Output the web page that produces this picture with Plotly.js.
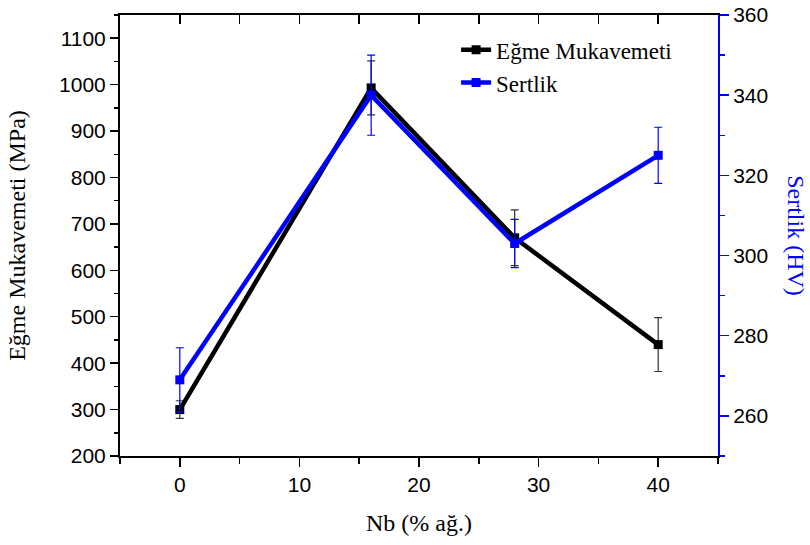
<!DOCTYPE html>
<html>
<head>
<meta charset="utf-8">
<script src="https://cdn.plot.ly/plotly-3.0.1.min.js"></script>
<style>html,body{margin:0;padding:0;background:#fff}#chart{width:810px;height:545px}</style>
</head>
<body>
<div id="chart"></div>
<script>
const nb = [0, 16, 28, 40];
const egme = [300, 993, 670, 440];
const egmeErr = [19, 58, 60, 58];
const sertlik = [269, 340, 303, 325];
const sertlikErr = [8, 10, 6, 7];
const xTicks = [0, 10, 20, 30, 40];
const leftTicks = [200, 300, 400, 500, 600, 700, 800, 900, 1000, 1100];
const rightTicks = [260, 280, 300, 320, 340, 360];

const sans = 'Liberation Sans, Arial, sans-serif';
const serif = 'Liberation Serif, Times New Roman, serif';

const traces = [
  {
    x: nb, y: egme, name: 'Eğme Mukavemeti', type: 'scatter', mode: 'lines+markers',
    line: {color: '#000000', width: 4.5},
    marker: {symbol: 'square', size: 9, color: '#000000'},
    error_y: {type: 'data', array: egmeErr, visible: true, color: '#333333', thickness: 1.2, width: 4},
    xaxis: 'x', yaxis: 'y'
  },
  {
    x: nb, y: sertlik, name: 'Sertlik', type: 'scatter', mode: 'lines+markers',
    line: {color: '#0000FF', width: 4.5},
    marker: {symbol: 'square', size: 9, color: '#0000FF'},
    error_y: {type: 'data', array: sertlikErr, visible: true, color: '#0000FF', thickness: 1.2, width: 4},
    xaxis: 'x', yaxis: 'y2'
  },
  {
    x: [null], y: [null], xaxis: 'x2', yaxis: 'y', showlegend: false, hoverinfo: 'skip',
    type: 'scatter', mode: 'lines'
  }
];

const layout = {
  width: 810, height: 545,
  margin: {l: 120, r: 92, t: 15, b: 89},
  paper_bgcolor: '#ffffff', plot_bgcolor: '#ffffff',
  showlegend: true,
  legend: {
    x: 0.562, y: 0.97, xanchor: 'left', yanchor: 'top',
    font: {family: serif, size: 23, color: '#000'},
    bgcolor: 'rgba(0,0,0,0)', tracegroupgap: 0
  },
  xaxis: {
    range: [-5, 45], tickvals: xTicks, ticktext: xTicks.map(String),
    showgrid: false, zeroline: false, showline: true, linecolor: '#000', linewidth: 2,
    ticks: 'outside', ticklen: 9, tickwidth: 1.5, tickcolor: '#000',
    minor: {dtick: 5, ticks: 'outside', ticklen: 6, tickwidth: 1.5, tickcolor: '#000', showgrid: false},
    tickfont: {family: sans, size: 21, color: '#000'},
    title: {text: 'Nb (% ağ.)', font: {family: serif, size: 24, color: '#000'}, standoff: 19},
    anchor: 'y'
  },
  xaxis2: {
    range: [-5, 45], overlaying: 'x', side: 'top', anchor: 'y',
    tickvals: xTicks, showticklabels: false,
    showgrid: false, zeroline: false, showline: true, linecolor: '#000', linewidth: 2,
    ticks: 'inside', ticklen: 9, tickwidth: 1.5, tickcolor: '#000',
    minor: {dtick: 5, ticks: 'inside', ticklen: 9, tickwidth: 1.5, tickcolor: '#000', showgrid: false}
  },
  yaxis: {
    range: [200, 1150], tickvals: leftTicks,
    showgrid: false, zeroline: false, showline: true, linecolor: '#000', linewidth: 2,
    ticks: 'outside', ticklen: 8, tickwidth: 1.5, tickcolor: '#000',
    minor: {dtick: 50, ticks: 'outside', ticklen: 4, tickwidth: 1.5, tickcolor: '#000', showgrid: false},
    tickfont: {family: sans, size: 21, color: '#000'},
    title: {text: 'Eğme Mukavemeti (MPa)', font: {family: serif, size: 24, color: '#000'}, standoff: 27}
  },
  yaxis2: {
    range: [250, 360], tickvals: rightTicks, overlaying: 'y', side: 'right', anchor: 'x',
    showgrid: false, zeroline: false, showline: true, linecolor: '#0000FF', linewidth: 2,
    ticks: 'outside', ticklen: 9, tickwidth: 1.5, tickcolor: '#0000FF',
    minor: {dtick: 10, ticks: 'outside', ticklen: 5, tickwidth: 1.5, tickcolor: '#0000FF', showgrid: false},
    tickfont: {family: sans, size: 21, color: '#000'}
  },
  annotations: [{
    text: 'Sertlik (HV)', xref: 'paper', yref: 'paper', x: 1.131, y: 0.5,
    xanchor: 'center', yanchor: 'middle', textangle: 90, showarrow: false,
    font: {family: serif, size: 24, color: '#0000FF'}
  }]
};

Plotly.newPlot('chart', traces, layout, {displayModeBar: false, staticPlot: true});
</script>
</body>
</html>
